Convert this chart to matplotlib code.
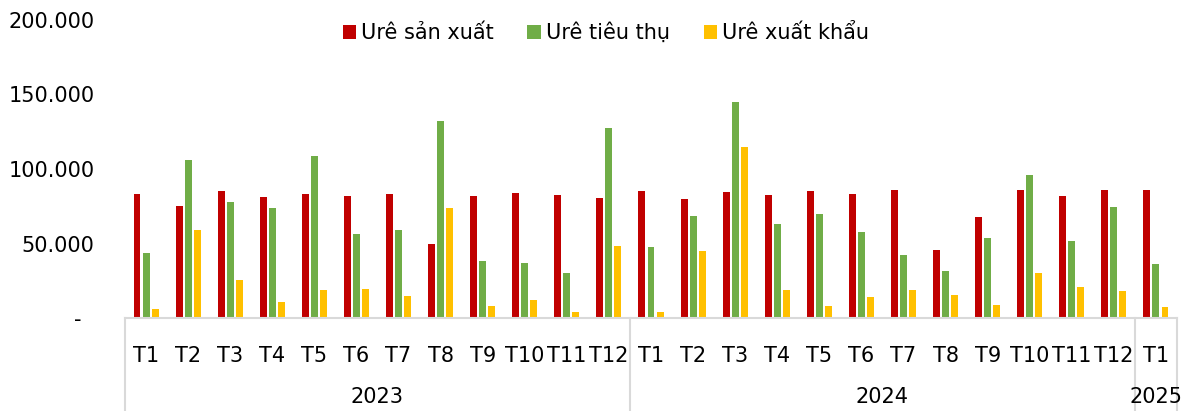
import matplotlib.pyplot as plt
from matplotlib.lines import Line2D
from matplotlib.transforms import blended_transform_factory

# san luong ure theo thang (tan)
months = ['T1', 'T2', 'T3', 'T4', 'T5', 'T6', 'T7', 'T8', 'T9', 'T10', 'T11', 'T12'] * 2 + ['T1']
years = ['2023', '2024', '2025']
year_len = [12, 12, 1]

san_xuat = [83000, 75000, 85200, 81500, 83000, 81700, 83500, 49700, 81700, 83900, 82300, 80300,
            85200, 79700, 84300, 82800, 85200, 83500, 85900, 45400, 67600, 85700, 82100, 85900,
            85700]
tieu_thu = [43900, 106000, 78100, 73800, 109000, 56200, 58900, 132000, 38000, 36700, 30000, 127300,
            47700, 68500, 144800, 62900, 70000, 57700, 42100, 31500, 53500, 96200, 51700, 74500,
            36200]
xuat_khau = [5800, 59300, 25300, 10700, 18800, 19700, 15000, 73800, 8000, 12100, 4000, 48600,
             4000, 44700, 114800, 18600, 7800, 14100, 19000, 15700, 9000, 30400, 20800, 18100,
             7400]

series = ['Urê sản xuất', 'Urê tiêu thụ', 'Urê xuất khẩu']
colors = ['#C00000', '#70AD47', '#FFC000']
yticks = [0, 50000, 100000, 150000, 200000]
ytick_labels = ['-  ', '50.000', '100.000', '150.000', '200.000']

plt.rcParams['font.family'] = ['DejaVu Sans']
fs = 15
grid_col = '#D9D9D9'

fig = plt.figure(figsize=(11.85, 4.11), dpi=100)
ax = fig.add_axes([125 / 1185, 93 / 411, 1052 / 1185, 298 / 411])

x = list(range(len(months)))
w = 0.165
off = [-0.215, 0, 0.215]
bars = []
for k, vals in enumerate([san_xuat, tieu_thu, xuat_khau]):
    b = ax.bar([i + off[k] for i in x], vals, width=w, color=colors[k], label=series[k])
    bars.append(b)

ax.set_xlim(-0.5, len(months) - 0.5)
ax.set_ylim(0, 200000)
ax.set_yticks(yticks)
ax.set_yticklabels(ytick_labels, fontsize=fs)
ax.tick_params(axis='y', length=0, pad=22)
ax.set_xticks([])
for s in ['top', 'right', 'left']:
    ax.spines[s].set_visible(False)
ax.spines['bottom'].set_color(grid_col)
ax.spines['bottom'].set_linewidth(1.5)

# truc danh muc hai cap (thang / nam)
tr = blended_transform_factory(ax.transData, fig.transFigure)
for i, m in enumerate(months):
    ax.text(i, 1 - 356 / 411, m, transform=tr, ha='center', va='center', fontsize=fs)

start = 0
seps = [-0.5]
for yr, n in zip(years, year_len):
    ax.text(start + (n - 1) / 2, 1 - 397 / 411, yr, transform=tr, ha='center', va='center', fontsize=fs)
    start += n
    seps.append(start - 0.5)
for sx in seps:
    ax.add_line(Line2D([sx, sx], [0, 93 / 411], transform=tr, color=grid_col, lw=1.5, clip_on=False))

fig.legend(handles=bars, labels=series, loc='center', bbox_to_anchor=(606 / 1185, 1 - 33 / 411),
           ncol=3, frameon=False, fontsize=fs, handlelength=0.65, handleheight=0.65,
           handletextpad=0.25, columnspacing=1.6)

fig.savefig('out.png', dpi=100)
